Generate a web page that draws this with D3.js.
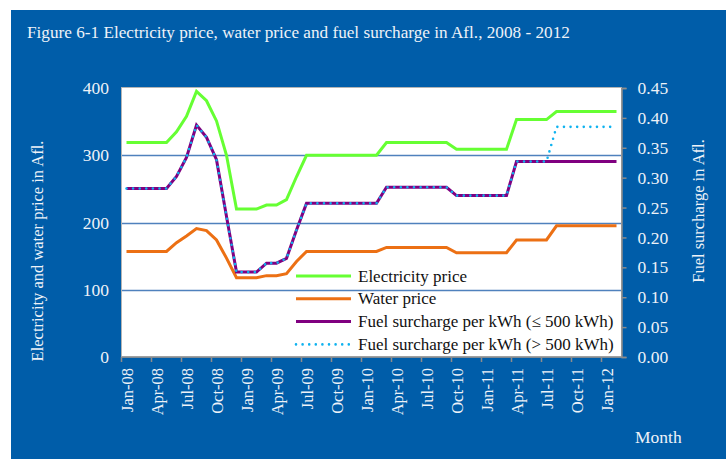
<!DOCTYPE html>
<html>
<head>
<meta charset="utf-8">
<script src="https://cdn.jsdelivr.net/npm/d3@7"></script>
<style>
  body { margin: 0; background: #fff; }
  svg text { font-family: "Liberation Serif", "Times New Roman", serif; fill: #eef2f8; }
</style>
</head>
<body>
<svg id="chart" width="726" height="459"></svg>
<script>
// monthly categories, Jan-08 .. Feb-12
const months = d3.timeMonths(new Date(2008, 0, 1), new Date(2012, 2, 1));
const tickLabels = ['Jan-08','Apr-08','Jul-08','Oct-08','Jan-09','Apr-09','Jul-09','Oct-09',
  'Jan-10','Apr-10','Jul-10','Oct-10','Jan-11','Apr-11','Jul-11','Oct-11','Jan-12'];
const leftTicks = [0, 100, 200, 300, 400];
const rightTicks = [0, 0.05, 0.10, 0.15, 0.20, 0.25, 0.30, 0.35, 0.40, 0.45];

// Afl. (left axis)
const electricity = [319,319,319,319,319,335,358,395,381,351,300,220,220,220,226,226,234,268,
  300,300,300,300,300,300,300,300,319,319,319,319,319,319,319,309,309,309,309,309,309,
  353,353,353,353,365,365,365,365,365,365,365];
const water = [157,157,157,157,157,170,180,191,188,174,147,118,118,118,121,121,124,142,
  157,157,157,157,157,157,157,157,163,163,163,163,163,163,163,155,155,155,155,155,155,
  174,174,174,174,195,195,195,195,195,195,195];
// Afl. per kWh (right axis)
const fuelLow = [0.282,0.282,0.282,0.282,0.282,0.302,0.334,0.388,0.3675,0.330,0.235,0.142,0.142,0.142,
  0.157,0.157,0.165,0.2125,0.257,0.257,0.257,0.257,0.257,0.257,0.257,0.257,
  0.284,0.284,0.284,0.284,0.284,0.284,0.284,0.270,0.270,0.270,0.270,0.270,0.270,
  0.327,0.327,0.327,0.327,0.327,0.327,0.327,0.327,0.327,0.327,0.327];
const fuelHigh = [0.282,0.282,0.282,0.282,0.282,0.302,0.334,0.388,0.3675,0.330,0.235,0.142,0.142,0.142,
  0.157,0.157,0.165,0.2125,0.257,0.257,0.257,0.257,0.257,0.257,0.257,0.257,
  0.284,0.284,0.284,0.284,0.284,0.284,0.284,0.270,0.270,0.270,0.270,0.270,0.270,
  0.327,0.327,0.327,0.327,0.385,0.385,0.385,0.385,0.385,0.385,0.385];

const svg = d3.select('#chart');
const fmt = d3.timeFormat('%b-%y');
const serif = '"Liberation Serif", "Times New Roman", serif';

svg.append('rect')
  .attr('x', 11).attr('y', 10).attr('width', 715).attr('height', 449)
  .attr('fill', '#005DA9');

const x = d3.scaleBand().domain(months.map(fmt)).range([121.5, 621.5]);
const yL = d3.scaleLinear().domain([0, 400]).range([357, 88]);
const yR = d3.scaleLinear().domain([0, 0.45]).range([357, 88]);
const cx = i => x(fmt(months[i])) + x.bandwidth() / 2;

// plot area
svg.append('rect')
  .attr('x', 121.5).attr('y', 87.5).attr('width', 500).attr('height', 269.5)
  .attr('fill', '#fff').attr('stroke', '#b4b4b4');

svg.append('g')
  .selectAll('line')
  .data([100, 200, 300])
  .join('line')
    .attr('x1', 122).attr('x2', 621)
    .attr('y1', d => Math.round(yL(d)) + 0.5).attr('y2', d => Math.round(yL(d)) + 0.5)
    .attr('stroke', '#4f81bd').attr('stroke-width', 1.3);

// left axis labels
svg.append('g')
  .selectAll('text')
  .data(leftTicks)
  .join('text')
    .attr('x', 109).attr('y', d => yL(d)).attr('dy', '0.35em')
    .attr('text-anchor', 'end').attr('font-size', 17.5)
    .text(d => d);

// right axis
const right = svg.append('g')
  .attr('transform', 'translate(621.5,0)')
  .call(d3.axisRight(yR).tickValues(rightTicks).tickSize(5).tickPadding(11).tickFormat(d3.format('.2f')))
  .attr('font-family', serif).attr('font-size', 17.5);
right.select('.domain').attr('stroke', '#8c8c8c').attr('stroke-width', 1.5);
right.selectAll('.tick line').attr('stroke', '#8c8c8c').attr('stroke-width', 1.5);
right.selectAll('.tick text').attr('fill', '#eef2f8');

// bottom axis ticks on band edges every quarter
const edgeIdx = d3.range(0, months.length + 1, 3);
svg.append('g')
  .selectAll('line')
  .data(edgeIdx)
  .join('line')
    .attr('x1', i => x.range()[0] + i * x.bandwidth())
    .attr('x2', i => x.range()[0] + i * x.bandwidth())
    .attr('y1', 357).attr('y2', 362)
    .attr('stroke', '#8c8c8c').attr('stroke-width', 1.5);
svg.append('line')
  .attr('x1', 121.5).attr('x2', 621.5).attr('y1', 357).attr('y2', 357)
  .attr('stroke', '#8c8c8c').attr('stroke-width', 1.5);

svg.append('g')
  .selectAll('text')
  .data(tickLabels)
  .join('text')
    .attr('transform', (d, k) => `translate(${cx(k * 3) + 1},368) rotate(-90)`)
    .attr('dy', '0.35em').attr('text-anchor', 'end').attr('font-size', 16.5)
    .text(d => d);

// series
const lineL = d3.line().x((d, i) => cx(i)).y(d => yL(d));
const lineR = d3.line().x((d, i) => cx(i)).y(d => yR(d));

svg.append('path').datum(electricity).attr('d', lineL)
  .attr('fill', 'none').attr('stroke', '#66ff33').attr('stroke-width', 3);
svg.append('path').datum(water).attr('d', lineL)
  .attr('fill', 'none').attr('stroke', '#ec7014').attr('stroke-width', 3);
svg.append('path').datum(fuelLow).attr('d', lineR)
  .attr('fill', 'none').attr('stroke', '#800080').attr('stroke-width', 3);
svg.append('path').datum(fuelHigh).attr('d', lineR)
  .attr('fill', 'none').attr('stroke', '#0fb2ef').attr('stroke-width', 2.6)
  .attr('stroke-linecap', 'round').attr('stroke-dasharray', '0 6.6');

// legend
const legend = [
  { name: 'Electricity price', color: '#66ff33', dash: null },
  { name: 'Water price', color: '#ec7014', dash: null },
  { name: 'Fuel surcharge per kWh (\u2264 500 kWh)', color: '#800080', dash: null },
  { name: 'Fuel surcharge per kWh (> 500 kWh)', color: '#0fb2ef', dash: '0 6.6' }
];
const lg = svg.append('g')
  .selectAll('g')
  .data(legend)
  .join('g')
    .attr('transform', (d, i) => `translate(0,${276 + i * 22.8})`);
lg.append('line')
  .attr('x1', 296).attr('x2', 351)
  .attr('stroke', d => d.color)
  .attr('stroke-width', d => d.dash ? 2.6 : 3)
  .attr('stroke-linecap', d => d.dash ? 'round' : 'butt')
  .attr('stroke-dasharray', d => d.dash);
lg.append('text')
  .attr('x', 358).attr('dy', '0.33em').attr('font-size', 17)
  .style('fill', '#111')
  .text(d => d.name);

// titles
svg.append('text')
  .attr('x', 27).attr('y', 38).attr('font-size', 17.2)
  .text('Figure 6-1 Electricity price, water price and fuel surcharge in Afl., 2008 - 2012');
svg.append('text')
  .attr('transform', 'translate(37,251) rotate(-90)')
  .attr('dy', '0.35em').attr('text-anchor', 'middle').attr('font-size', 16.5)
  .text('Electricity and water price in Afl.');
svg.append('text')
  .attr('transform', 'translate(698,211) rotate(-90)')
  .attr('dy', '0.35em').attr('text-anchor', 'middle').attr('font-size', 16.5)
  .text('Fuel surcharge in Afl.');
svg.append('text')
  .attr('x', 635).attr('y', 443).attr('font-size', 17.5)
  .text('Month');
</script>
</body>
</html>
